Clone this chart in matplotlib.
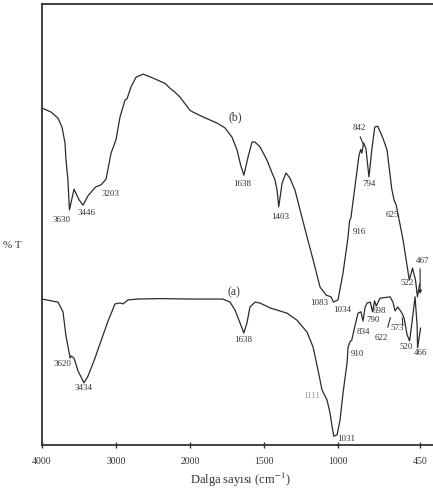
import numpy as np
import matplotlib.pyplot as plt

plt.rcParams['font.family'] = ['Liberation Serif', 'DejaVu Serif']
plt.rcParams['mathtext.fontset'] = 'stix'

# spectrum (b)
wn_b = [4000, 3878, 3784, 3730, 3690, 3676, 3650, 3630, 3568, 3500, 3446, 3380, 3278, 3203,
        3136, 3068, 3002, 2947, 2880, 2853, 2799, 2731, 2637, 2529, 2340, 2272, 2205, 2138,
        2003, 1981, 1914, 1866, 1819, 1765, 1718, 1684, 1660, 1638, 1610, 1583, 1563, 1529,
        1482, 1448, 1428, 1414, 1403, 1380, 1354, 1327, 1293, 1259, 1212, 1171, 1124, 1083,
        1050, 1034, 1003, 969, 935, 925, 916, 900, 862, 850, 842, 830, 815, 794, 775, 755,
        735, 700, 672, 640, 625, 610, 564, 522, 500, 480, 467, 452]
T_b = [76.4, 75.5, 74.1, 72.1, 68.5, 64.6, 60.1, 53.3, 58.0, 55.6, 54.4, 56.5, 58.5, 59.0,
       60.3, 66.2, 69.2, 74.4, 78.2, 78.5, 81.2, 83.4, 84.1, 83.4, 82.0, 80.9, 80.0, 78.9,
       75.9, 75.5, 74.4, 73.7, 73.0, 71.9, 69.8, 66.9, 63.5, 61.2, 65.3, 68.7, 68.7, 67.6,
       64.6, 61.7, 60.1, 57.8, 54.0, 59.4, 61.7, 60.5, 57.8, 53.3, 47.2, 42.0, 35.8, 34.0,
       33.6, 32.4, 32.9, 39.0, 47.2, 50.8, 51.5, 55.6, 65.5, 67.0, 66.2, 68.5, 67.3, 60.8,
       66.9, 72.1, 72.3, 69.6, 66.9, 58.0, 55.6, 54.4, 46.5, 37.4, 40.1, 37.4, 33.6, 36.5]

# spectrum (a)
wn_a = [4000, 3784, 3717, 3676, 3620, 3608, 3568, 3514, 3434, 3380, 3285, 3204, 3109, 3015,
        2947, 2907, 2839, 2704, 2400, 2000, 1779, 1731, 1698, 1664, 1638, 1617, 1597, 1563,
        1529, 1462, 1414, 1347, 1279, 1212, 1171, 1138, 1124, 1111, 1077, 1057, 1040, 1031,
        1009, 989, 969, 942, 935, 922, 910, 895, 868, 848, 834, 821, 807, 785, 770, 756, 745,
        719, 652, 632, 618, 600, 573, 557, 537, 520, 502, 483, 469, 466, 446]
T_a = [33.1, 32.4, 30.2, 24.7, 19.7, 20.2, 19.7, 16.8, 14.1, 15.6, 19.7, 23.6, 28.1, 32.0,
       32.2, 32.0, 32.9, 33.1, 33.2, 33.1, 33.1, 32.4, 30.6, 27.7, 25.4, 27.7, 31.3, 32.4,
       32.2, 31.1, 30.6, 29.9, 28.3, 25.6, 22.2, 17.0, 14.7, 12.5, 10.2, 7.3, 3.6, 2.0,
       2.3, 5.7, 11.8, 18.6, 22.2, 23.4, 23.8, 26.1, 29.9, 30.2, 28.1, 31.1, 32.2, 32.4,
       30.2, 32.7, 31.5, 33.3, 33.6, 32.4, 30.4, 31.3, 30.0, 28.8, 25.0, 23.6, 28.3, 33.6,
       27.0, 22.0, 26.5]

tickVals = [4000, 3000, 2000, 1500, 1000, 450]

# peak labels: text, wavenumber, T
labels_b = [('3630', 3730, 51.0), ('3446', 3393, 52.6), ('3203', 3082, 56.9),
            ('1638', 1649, 59.2), ('1403', 1394, 51.7), ('916', 861, 48.3),
            ('842', 861, 71.9), ('794', 794, 59.2), ('625', 638, 52.2), ('522', 537, 36.7),
            ('467', 429, 41.7), ('1083', 1131, 32.2), ('1034', 976, 30.6)]
labels_a = [('3620', 3730, 18.4), ('3434', 3446, 12.9), ('1638', 1644, 23.8),
            ('1031', 949, 1.4), ('910', 875, 20.6), ('834', 834, 25.6),
            ('790', 767, 28.3), ('698', 726, 30.4), ('622', 713, 24.3), ('573', 605, 26.5),
            ('520', 544, 22.2), ('466', 443, 20.9)]


def fwd(w):
    w = np.asarray(w, dtype=float)
    return np.where(w <= 2000, w, 2000 + (w - 2000) / 2.0)


def inv(y):
    y = np.asarray(y, dtype=float)
    return np.where(y <= 2000, y, 2000 + 2.0 * (y - 2000))


fig = plt.figure(figsize=(4.33, 4.97), dpi=100)
ax = fig.add_axes([0.097, 0.1046, 0.903, 0.8873])
ax.set_xscale('function', functions=(fwd, inv))

col = '#2b2b2b'
ax.plot(wn_b, T_b, color=col, linewidth=0.9)
ax.plot(wn_a, T_a, color=col, linewidth=0.9)

ax.set_xlim(4000, 362)
ax.set_ylim(0, 100)
ax.set_xticks(tickVals)
ax.set_xticklabels([str(v) for v in tickVals], fontsize=7, color='#333333')
ax.minorticks_off()
ax.set_yticks([])
ax.tick_params(axis='x', direction='inout', length=5, width=1.0, pad=6, colors='#333333')
for s in ['left', 'bottom', 'top']:
    ax.spines[s].set_linewidth(1.3)
    ax.spines[s].set_color('#333333')
ax.spines['right'].set_visible(False)

for txt, w, t in labels_b + labels_a:
    ax.text(w, t, txt, fontsize=6.5, ha='center', va='center', color='#333333')
ax.text(1178, 11.1, '1111', fontsize=6.5, ha='center', va='center', color='#999999')

ax.text(1698, 74.4, '(b)', fontsize=8.5, ha='center', va='center', color='#333333')
ax.text(1705, 34.7, '(a)', fontsize=8.5, ha='center', va='center', color='#333333')

# pointer lines
ax.annotate('', xy=(827, 67.8), xytext=(861, 70.5),
            arrowprops=dict(arrowstyle='-', color=col, lw=0.8))
ax.annotate('', xy=(449, 33.6), xytext=(449, 40.6),
            arrowprops=dict(arrowstyle='-|>', color=col, lw=0.8, mutation_scale=5))
ax.annotate('', xy=(645, 29.5), xytext=(672, 26.1),
            arrowprops=dict(arrowstyle='-', color=col, lw=0.8))
ax.annotate('', xy=(564, 26.5), xytext=(571, 29.5),
            arrowprops=dict(arrowstyle='-', color=col, lw=0.8))

fig.text(0.028, 0.507, '% T', fontsize=8, ha='center', va='center', color='#333333')
fig.text(0.555, 0.034, 'Dalga sayısı (cm$^{-1}$)', fontsize=9, ha='center', va='center',
         color='#333333')

plt.savefig('out.png', dpi=100)
